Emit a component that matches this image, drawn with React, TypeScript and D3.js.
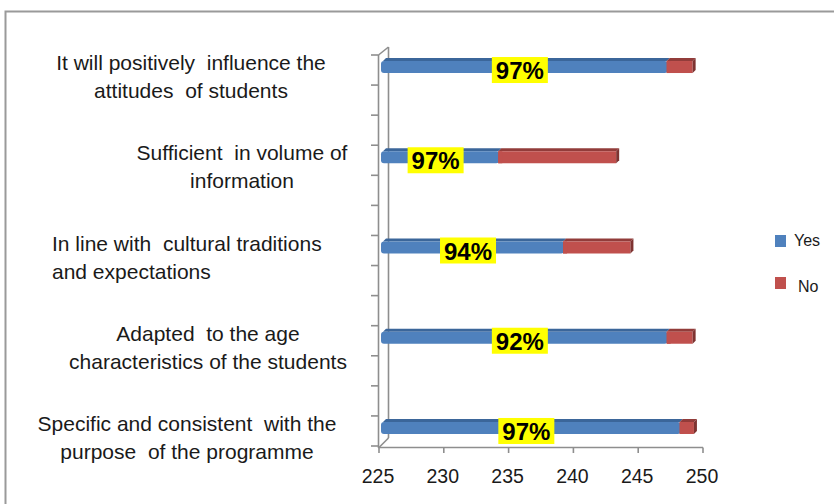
import React from "react";
import * as d3 from "d3";

// ---- data ----
const categories = [
  ["It will positively  influence the", "attitudes  of students"],
  ["Sufficient  in volume of", "information"],
  ["In line with  cultural traditions", "and expectations"],
  ["Adapted  to the age", "characteristics of the students"],
  ["Specific and consistent  with the", "purpose  of the programme"],
];
const yesValues = [247.2, 234.2, 239.2, 247.2, 248.2];
const noValues = [2.0, 9.1, 5.2, 2.0, 1.1];
const pctLabels = ["97%", "97%", "94%", "92%", "97%"];
const xTicks = [225, 230, 235, 240, 245, 250];
const seriesNames = ["Yes", "No"];

// ---- layout / style ----
const W = 834;
const H = 504;
const COLORS = { Yes: "#4F81BD", No: "#C0504D" };
const TOP_COLORS = { Yes: "#3B669A", No: "#923C3A" };
const SIDE_COLORS = { Yes: "#355C8C", No: "#7E3331" };
const labelLayout = [
  { anchor: "middle", x: 191 },
  { anchor: "middle", x: 242 },
  { anchor: "start", x: 52 },
  { anchor: "middle", x: 208 },
  { anchor: "middle", x: 187 },
];
const legendLayout = [
  { sq: 235, tx: 794, ty: 246 },
  { sq: 277, tx: 798, ty: 292 },
];
const FONT = "'Liberation Sans', Arial, sans-serif";

export default function App() {
  const x = d3.scaleLinear().domain([225, 250]).range([379, 703]);
  const ids = categories.map((_, i) => String(i));
  const y = d3.scaleBand().domain(ids).range([21.9, 473.1]).padding(0);
  const barH = 12;
  const dx = 3;
  const dy = 3;
  const axisColor = "#8e8e8e";

  const leftTicks = d3.range(14).map((i) => 55 + i * (391 / 13));

  const bars = categories.map((_, i) => {
    const c = (y(String(i)) as number) + y.bandwidth() / 2;
    const x0 = x(225);
    const x1 = x(yesValues[i]);
    const x2 = x(yesValues[i] + noValues[i]);
    const top = c - barH / 2;
    const bot = c + barH / 2;
    const segs = [
      { name: "Yes", a: x0 + 2, b: x1 },
      { name: "No", a: x1, b: x2 },
    ];
    return (
      <g key={i}>
        {segs.map((s, k) => (
          <g key={k}>
            <polygon
              points={`${s.a + (k === 0 ? 2 : 0)},${top} ${s.a + dx + (k === 0 ? 2 : 0)},${top - dy} ${s.b + dx},${top - dy} ${s.b},${top}`}
              fill={TOP_COLORS[s.name]}
            />
            <rect
              x={s.a}
              y={top}
              width={s.b - s.a + (k === 0 ? 1 : 0)}
              height={barH}
              rx={k === 0 ? 3 : 0}
              fill={COLORS[s.name]}
            />
          </g>
        ))}
        <rect x={x1} y={top} width={4} height={barH} fill={COLORS.No} />
        <polygon
          points={`${x2},${top} ${x2 + dx},${top - dy} ${x2 + dx},${bot - dy} ${x2},${bot}`}
          fill={SIDE_COLORS.No}
        />
        {/* percent label */}
        <rect
          x={(x0 + x1) / 2 - 3 - 28}
          y={c - 10}
          width={56}
          height={26}
          fill="#FFFF00"
        />
        <text
          x={(x0 + x1) / 2 - 3}
          y={c + 12}
          textAnchor="middle"
          fontFamily={FONT}
          fontWeight="bold"
          fontSize={24}
          fill="#000"
        >
          {pctLabels[i]}
        </text>
        {/* category label */}
        <text
          fontFamily={FONT}
          fontSize={21}
          fill="#1a1a1a"
          textAnchor={labelLayout[i].anchor as any}
        >
          {categories[i].map((line, j) => (
            <tspan key={j} x={labelLayout[i].x} y={c + 3 + j * 28} style={{ whiteSpace: "pre" }}>
              {line}
            </tspan>
          ))}
        </text>
      </g>
    );
  });

  return (
    <div style={{ position: "fixed", left: 0, top: 0 }}>
      <svg width={W} height={H} style={{ display: "block", background: "#fff" }}>
        <defs>
          <clipPath id="legclip">
            <rect x={0} y={0} width={W} height={292} />
          </clipPath>
        </defs>
        {/* outer frame */}
        <path d={`M5.5,${H} V11.5 H${W}`} fill="none" stroke="#9a9a9a" strokeWidth={2} />

        {/* 3D axes */}
        <g stroke={axisColor} strokeWidth={1.6} fill="none">
          <line x1={378.5} y1={55} x2={378.5} y2={448} />
          <line x1={388.5} y1={47} x2={388.5} y2={438} />
          <line x1={378.5} y1={55} x2={388.5} y2={47} />
          <line x1={378.5} y1={448} x2={388.5} y2={438} />
          <line x1={378.5} y1={447.5} x2={x(250)} y2={447.5} />
          {leftTicks.map((t, i) => (
            <line key={i} x1={371} y1={t} x2={378.5} y2={t} />
          ))}
          {xTicks.map((t) => (
            <line key={t} x1={x(t)} y1={447.5} x2={x(t)} y2={453} />
          ))}
        </g>

        {bars}

        {/* x tick labels */}
        {xTicks.map((t) => (
          <text
            key={t}
            x={x(t) - 1}
            y={483}
            textAnchor="middle"
            fontFamily={FONT}
            fontSize={19.5}
            fill="#1a1a1a"
          >
            {t}
          </text>
        ))}

        {/* legend */}
        <g clipPath="url(#legclip)">
          {seriesNames.map((s, i) => (
            <g key={s}>
              <rect x={775} y={legendLayout[i].sq} width={11} height={12} fill={COLORS[s]} />
              <text
                x={legendLayout[i].tx}
                y={legendLayout[i].ty}
                fontFamily={FONT}
                fontSize={16}
                fill="#1a1a1a"
              >
                {s}
              </text>
            </g>
          ))}
        </g>
      </svg>
    </div>
  );
}
